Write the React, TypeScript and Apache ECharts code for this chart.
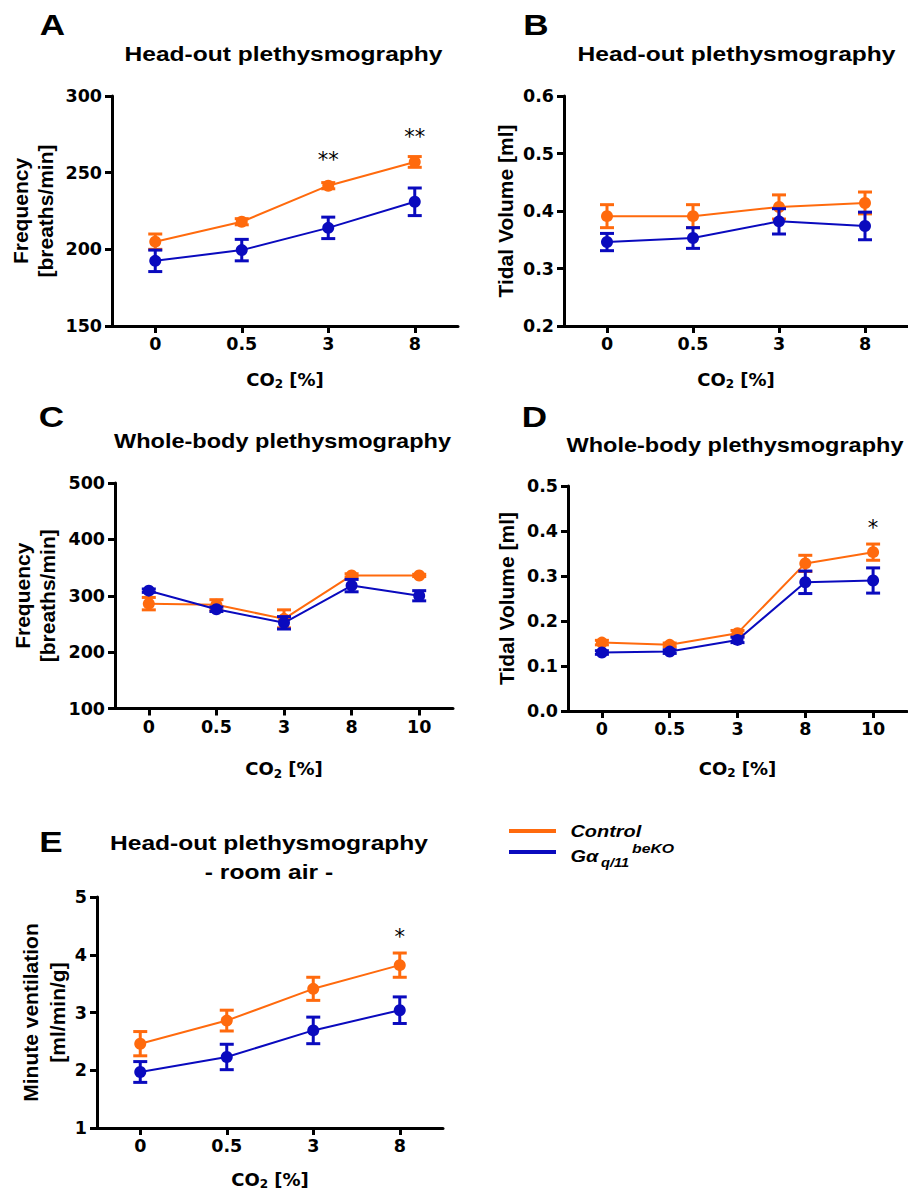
import React, { useEffect, useRef } from 'react';
import * as echarts from 'echarts';

const ORANGE = '#FF6A0D';
const BLUE = '#0A0ABE';

const catsABE = ['0', '0.5', '3', '8'];
const catsCD = ['0', '0.5', '3', '8', '10'];

// Panel A – head-out, frequency
const ctrlA = [205, 218, 241.5, 257];
const ctrlAErr = [5, 2, 2, 3.5];
const koA = [192.5, 199.5, 214, 231];
const koAErr = [7, 7, 7, 9];
const starA = ['', '', '**', '**'];
const starYA = [null, null, 258, 273];

// Panel B – head-out, tidal volume
const ctrlB = [0.391, 0.391, 0.407, 0.414];
const ctrlBErr = [0.02, 0.02, 0.021, 0.019];
const koB = [0.346, 0.353, 0.382, 0.374];
const koBErr = [0.015, 0.018, 0.022, 0.024];

// Panel C – whole-body, frequency
const ctrlC = [286, 284, 259, 336, 336];
const ctrlCErr = [11, 9, 16, 3, 2];
const koC = [309, 276, 252, 318, 300];
const koCErr = [3, 4, 11, 11, 9];

// Panel D – whole-body, tidal volume
const ctrlD = [0.152, 0.147, 0.173, 0.328, 0.353];
const ctrlDErr = [0.005, 0.004, 0.006, 0.018, 0.018];
const koD = [0.13, 0.132, 0.158, 0.286, 0.29];
const koDErr = [0.004, 0.004, 0.006, 0.025, 0.028];
const starD = ['', '', '', '', '*'];
const starYD = [null, null, null, null, 0.407];

// Panel E – minute ventilation
const ctrlE = [2.46, 2.86, 3.41, 3.82];
const ctrlEErr = [0.21, 0.18, 0.2, 0.21];
const koE = [1.97, 2.23, 2.69, 3.04];
const koEErr = [0.18, 0.22, 0.23, 0.23];
const starE = ['', '', '', '*'];
const starYE = [null, null, null, 4.31];

const TICK_FONT = 'DejaVu Sans';
const ARIAL = 'Liberation Sans';

const xAxisFor = (gi: number, cats: string[], nameGap: number) => ({
  type: 'category',
  gridIndex: gi,
  data: cats,
  boundaryGap: true,
  axisLine: { show: true, lineStyle: { color: '#000', width: 3 } },
  axisTick: { show: true, alignWithLabel: true, length: 7, lineStyle: { color: '#000', width: 3 } },
  axisLabel: { color: '#000', fontFamily: TICK_FONT, fontWeight: 'bold', fontSize: 17.5, margin: 9 },
  splitLine: { show: false },
  name: '{a|CO}{s|2}{a| [%]}',
  nameLocation: 'middle',
  nameGap,
  nameTextStyle: {
    rich: {
      a: { fontFamily: TICK_FONT, fontWeight: 'bold', fontSize: 18, color: '#000', lineHeight: 22 },
      s: { fontFamily: TICK_FONT, fontWeight: 'bold', fontSize: 12, color: '#000', lineHeight: 12, padding: [10, 0, 0, 0] },
    },
  },
});

const yAxisFor = (
  gi: number,
  min: number,
  max: number,
  interval: number,
  decimals: number,
  name: string,
  nameGap: number,
  lineHeight: number
) => ({
  type: 'value',
  gridIndex: gi,
  min,
  max,
  interval,
  axisLine: { show: true, lineStyle: { color: '#000', width: 3 } },
  axisTick: { show: true, length: 7, lineStyle: { color: '#000', width: 3 } },
  axisLabel: {
    color: '#000',
    fontFamily: TICK_FONT,
    fontWeight: 'bold',
    fontSize: 17.5,
    margin: 10,
    formatter: (v: number) => v.toFixed(decimals),
  },
  splitLine: { show: false },
  name,
  nameLocation: 'middle',
  nameGap,
  nameTextStyle: { fontFamily: ARIAL, fontWeight: 'bold', fontSize: 21, lineHeight, color: '#000' },
});

const lineSeries = (gi: number, name: string, data: number[], color: string, z: number) => ({
  type: 'line',
  name,
  xAxisIndex: gi,
  yAxisIndex: gi,
  data,
  symbol: 'circle',
  symbolSize: 12,
  showSymbol: true,
  lineStyle: { color, width: 2 },
  itemStyle: { color },
  emphasis: { disabled: true },
  z,
});

const errSeries = (gi: number, name: string, means: number[], errs: number[], color: string, z: number) => ({
  type: 'custom',
  name,
  xAxisIndex: gi,
  yAxisIndex: gi,
  z,
  clip: false,
  data: means.map((m, i) => [i, m, errs[i]]),
  renderItem: (params: any, api: any) => {
    const i = api.value(0);
    const m = api.value(1);
    const e = api.value(2);
    const top = api.coord([i, m + e]);
    const bot = api.coord([i, m - e]);
    const hw = 7;
    const st = { stroke: color, lineWidth: 3 };
    return {
      type: 'group',
      children: [
        { type: 'line', shape: { x1: top[0], y1: top[1], x2: bot[0], y2: bot[1] }, style: st },
        { type: 'line', shape: { x1: top[0] - hw, y1: top[1], x2: top[0] + hw, y2: top[1] }, style: st },
        { type: 'line', shape: { x1: bot[0] - hw, y1: bot[1], x2: bot[0] + hw, y2: bot[1] }, style: st },
      ],
    };
  },
});

const starSeries = (gi: number, stars: string[], ys: (number | null)[]) => {
  const idx = stars.map((s, i) => (s ? i : -1)).filter((i) => i >= 0);
  return {
    type: 'custom',
    name: 'significance',
    xAxisIndex: gi,
    yAxisIndex: gi,
    z: 10,
    clip: false,
    data: idx.map((i) => [i, ys[i] as number]),
    renderItem: (params: any, api: any) => {
      const p = api.coord([api.value(0), api.value(1)]);
      return {
        type: 'text',
        x: p[0],
        y: p[1],
        style: {
          text: stars[idx[params.dataIndex]],
          fill: '#000',
          fontFamily: TICK_FONT,
          fontSize: 21,
          align: 'center',
          verticalAlign: 'middle',
        },
      };
    },
  };
};

const titleText = (text: string, x: number, y: number, size = 21, sx = 1.17) => ({
  type: 'text',
  x,
  y,
  scaleX: sx,
  style: { text, fill: '#000', fontFamily: ARIAL, fontWeight: 'bold', fontSize: size, align: 'center', verticalAlign: 'middle' },
});

export default function App() {
  const ref = useRef<HTMLDivElement>(null);
  useEffect(() => {
    document.body.style.margin = '0';
    if (!ref.current) return;
    const chart = echarts.init(ref.current, null, { renderer: 'svg' });
    const option: any = {
      animation: false,
      backgroundColor: '#fff',
      grid: [
        { left: 112, top: 96, width: 346, height: 230 },
        { left: 564, top: 96, width: 344, height: 230 },
        { left: 115, top: 483, width: 338, height: 225.5 },
        { left: 568, top: 486, width: 339, height: 225 },
        { left: 97, top: 897, width: 346, height: 231 },
      ],
      xAxis: [
        xAxisFor(0, catsABE, 42),
        xAxisFor(1, catsABE, 42),
        xAxisFor(2, catsCD, 49),
        xAxisFor(3, catsCD, 46),
        xAxisFor(4, catsABE, 40),
      ],
      yAxis: [
        yAxisFor(0, 150, 300, 50, 0, 'Frequency\n[breaths/min]', 54, 25),
        yAxisFor(1, 0.2, 0.6, 0.1, 1, 'Tidal Volume [ml]', 46, 25),
        yAxisFor(2, 100, 500, 100, 0, 'Frequency\n[breaths/min]', 55, 25),
        yAxisFor(3, 0, 0.5, 0.1, 1, 'Tidal Volume [ml]', 49, 25),
        yAxisFor(4, 1, 5, 1, 0, 'Minute ventilation\n[ml/min/g]', 25, 27),
      ],
      series: [
        errSeries(0, 'Control SEM', ctrlA, ctrlAErr, ORANGE, 2),
        lineSeries(0, 'Control', ctrlA, ORANGE, 3),
        errSeries(0, 'KO SEM', koA, koAErr, BLUE, 4),
        lineSeries(0, 'Gαq/11 beKO', koA, BLUE, 5),
        starSeries(0, starA, starYA),

        errSeries(1, 'Control SEM', ctrlB, ctrlBErr, ORANGE, 2),
        lineSeries(1, 'Control', ctrlB, ORANGE, 3),
        errSeries(1, 'KO SEM', koB, koBErr, BLUE, 4),
        lineSeries(1, 'Gαq/11 beKO', koB, BLUE, 5),

        errSeries(2, 'Control SEM', ctrlC, ctrlCErr, ORANGE, 2),
        lineSeries(2, 'Control', ctrlC, ORANGE, 3),
        errSeries(2, 'KO SEM', koC, koCErr, BLUE, 4),
        lineSeries(2, 'Gαq/11 beKO', koC, BLUE, 5),

        errSeries(3, 'Control SEM', ctrlD, ctrlDErr, ORANGE, 2),
        lineSeries(3, 'Control', ctrlD, ORANGE, 3),
        errSeries(3, 'KO SEM', koD, koDErr, BLUE, 4),
        lineSeries(3, 'Gαq/11 beKO', koD, BLUE, 5),
        starSeries(3, starD, starYD),

        errSeries(4, 'Control SEM', ctrlE, ctrlEErr, ORANGE, 2),
        lineSeries(4, 'Control', ctrlE, ORANGE, 3),
        errSeries(4, 'KO SEM', koE, koEErr, BLUE, 4),
        lineSeries(4, 'Gαq/11 beKO', koE, BLUE, 5),
        starSeries(4, starE, starYE),
      ],
      graphic: [
        titleText('A', 52.5, 24, 30),
        titleText('B', 536, 24.5, 30),
        titleText('C', 51.5, 416, 30),
        titleText('D', 534.5, 416, 30),
        titleText('E', 51, 841, 30),
        titleText('Head-out plethysmography', 283.5, 54),
        titleText('Head-out plethysmography', 736.5, 54),
        titleText('Whole-body plethysmography', 282.5, 441, 21, 1.12),
        titleText('Whole-body plethysmography', 735, 445, 21, 1.12),
        titleText('Head-out plethysmography', 269, 842.5),
        titleText('- room air -', 269, 872),
        { type: 'line', shape: { x1: 509, y1: 831, x2: 556, y2: 831 }, style: { stroke: ORANGE, lineWidth: 4 } },
        { type: 'line', shape: { x1: 509, y1: 852, x2: 556, y2: 852 }, style: { stroke: BLUE, lineWidth: 4 } },
        {
          type: 'text', x: 570.5, y: 831, scaleX: 1.17,
          style: { text: 'Control', fill: '#000', fontFamily: ARIAL, fontWeight: 'bold', fontStyle: 'italic', fontSize: 17, align: 'left', verticalAlign: 'middle' },
        },
        {
          type: 'text', x: 570.5, y: 856, scaleX: 1.17,
          style: { text: 'Gα', fill: '#000', fontFamily: ARIAL, fontWeight: 'bold', fontStyle: 'italic', fontSize: 17, align: 'left', verticalAlign: 'middle' },
        },
        {
          type: 'text', x: 601, y: 863, scaleX: 1.17,
          style: { text: 'q/11', fill: '#000', fontFamily: ARIAL, fontWeight: 'bold', fontStyle: 'italic', fontSize: 12.5, align: 'left', verticalAlign: 'middle' },
        },
        {
          type: 'text', x: 632, y: 848, scaleX: 1.17,
          style: { text: 'beKO', fill: '#000', fontFamily: ARIAL, fontWeight: 'bold', fontStyle: 'italic', fontSize: 13.5, align: 'left', verticalAlign: 'middle' },
        },
      ],
    };
    chart.setOption(option);
    return () => chart.dispose();
  }, []);
  return <div ref={ref} style={{ width: 908, height: 1192 }} />;
}
